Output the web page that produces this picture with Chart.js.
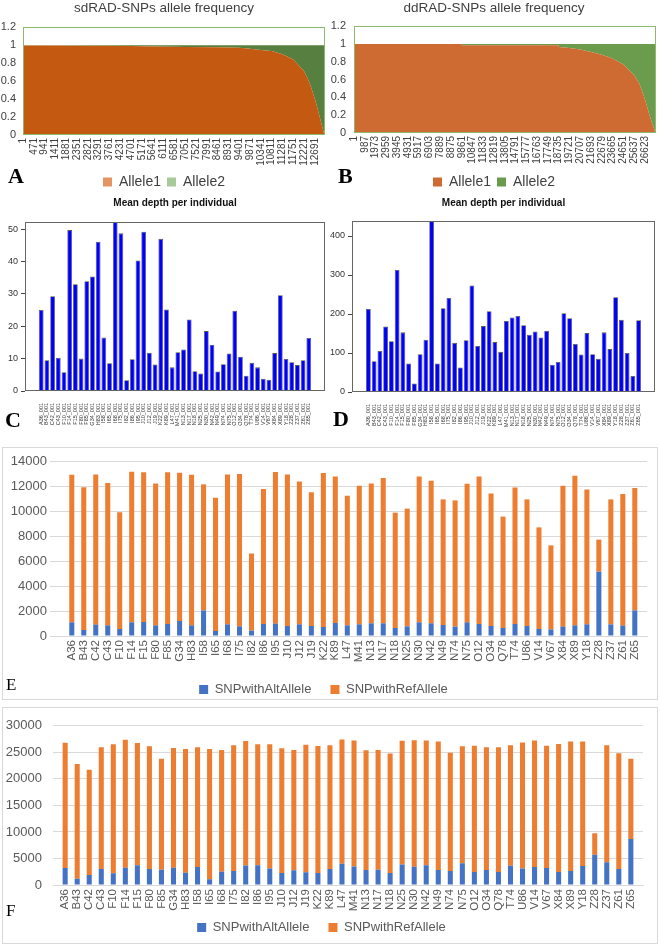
<!DOCTYPE html>
<html>
<head>
<meta charset="utf-8">
<script src="https://cdn.jsdelivr.net/npm/chart.js"></script>
<style>
body{margin:0;background:#fff;width:660px;height:945px;overflow:hidden;position:relative}
canvas,.lbl,.box{position:absolute}
.lbl{font-family:"Liberation Serif","Times New Roman",serif;color:#000;line-height:1}
.big{font-weight:bold;font-size:22px}
.mid{font-size:17px}
.box{border:1px solid #d9d9d9}
</style>
</head>
<body>
<div class="box" style="left:2px;top:447px;width:654px;height:251px"></div>
<div class="box" style="left:2px;top:707px;width:654px;height:235px"></div>

<canvas id="cA" width="330" height="199" style="left:0;top:0"></canvas>
<canvas id="cB" width="330" height="199" style="left:330px;top:0"></canvas>
<canvas id="cC" width="330" height="240" style="left:0;top:190px"></canvas>
<canvas id="cD" width="330" height="240" style="left:330px;top:190px"></canvas>
<canvas id="cE" width="660" height="259" style="left:0;top:447px"></canvas>
<canvas id="cF" width="660" height="237" style="left:0;top:707px"></canvas>

<div class="lbl big" style="left:8px;top:165px">A</div>
<div class="lbl big" style="left:338px;top:165px">B</div>
<div class="lbl big" style="left:5px;top:409px">C</div>
<div class="lbl big" style="left:333px;top:408px">D</div>
<div class="lbl mid" style="left:6px;top:676px">E</div>
<div class="lbl mid" style="left:6px;top:902px">F</div>

<script>
// individuals
const names = ["A36","B43","C42","C43","F10","F14","F15","F80","F85","G34","H83","I58","I65","I68","I75","I82",
  "I86","I95","J10","J12","J19","K22","K89","L47","M41","N13","N17","N18","N25","N30","N42","N49",
  "N74","N75","O12","O34","Q78","T74","U86","V14","V67","X84","X89","Y18","Z28","Z37","Z61","Z65"];
const depthNames = names.map(n => n + "_001");

// A: sdRAD allele frequency (sorted SNPs)
const sdTicks = [1,471,941,1411,1881,2351,2821,3291,3761,4231,4701,5171,5641,6111,6581,7051,7521,7991,
  8461,8931,9401,9871,10341,10811,11281,11751,12221,12691];
const sdX  = [1, 941, 2821, 4701, 5641, 7051, 8461, 9401, 9871, 10341, 10811, 11281, 11751, 12221, 12461, 12691, 12850, 13000, 13100];
const sdA1 = [0.995, 0.995, 0.993, 0.99, 0.985, 0.98, 0.978, 0.972, 0.96, 0.945, 0.935, 0.9, 0.84, 0.71, 0.58, 0.4, 0.25, 0.1, 0];
const sdA2 = [0.005, 0.005, 0.007, 0.01, 0.015, 0.02, 0.022, 0.028, 0.04, 0.055, 0.065, 0.1, 0.16, 0.29, 0.42, 0.6, 0.75, 0.9, 1];

// B: ddRAD allele frequency
const ddTicks = [1,987,1973,2959,3945,4931,5917,6903,7889,8875,9861,10847,11833,12819,13805,14791,15777,
  16763,17749,18735,19721,20707,21693,22679,23665,24651,25637,26623];
const ddX  = [1, 9861, 9862, 18735, 18736, 19721, 20707, 21693, 22679, 23665, 24651, 25637, 26130, 26623, 27000, 27300, 27600];
const ddA1 = [1, 1, 0.985, 0.985, 0.967, 0.955, 0.937, 0.91, 0.88, 0.836, 0.77, 0.65, 0.55, 0.38, 0.22, 0.1, 0];
const ddA2 = [0, 0, 0.015, 0.015, 0.033, 0.045, 0.063, 0.09, 0.12, 0.164, 0.23, 0.35, 0.45, 0.62, 0.78, 0.9, 1];

// C, D: mean depth per individual
const depthSd = [25, 9.5, 29.3, 10.3, 5.8, 49.7, 33, 10, 33.9, 35.4, 46.1, 16.5, 8.6, 52.2, 48.7, 3.3,
  9.8, 40.3, 49.2, 11.8, 8.2, 47, 25.2, 7.3, 12, 12.8, 22.1, 6.1, 5.4, 18.5, 14.3, 6,
  8.3, 11.6, 24.8, 10.6, 4.7, 8.7, 7.3, 3.8, 3.5, 11.7, 29.6, 9.9, 8.9, 8, 9.5, 16.4];
const depthDd = [213, 79, 105, 168, 130, 313, 153, 73, 22, 97, 134, 438.5, 73, 215, 241, 126,
  63, 133, 273, 118, 169, 207, 128, 103, 182, 191, 195, 171, 147, 155, 140, 157,
  70, 77, 202, 189, 123, 96, 151, 97, 85, 153, 110, 243, 185, 100, 41, 184];

// E: sdRAD SNP counts
const sdAlt = [1090,480,910,850,560,1090,1120,850,960,1200,850,2050,400,930,770,430,
  960,990,800,930,800,720,1040,850,930,1010,1010,640,770,1090,1010,880,
  750,1090,960,800,640,960,800,560,530,750,850,930,5150,930,830,2050];
const sdRef = [11810,11420,12020,11390,9340,12060,11980,11350,12140,11870,12050,10080,10670,12000,12190,6170,
  10800,12130,12130,11440,10700,12320,11730,10380,11100,11190,11630,9230,9420,11680,11420,10050,
  10100,11100,11810,10610,8910,10930,10130,8130,6720,11280,11980,10800,2560,10000,10530,9790];

// F: ddRAD SNP counts
const ddAlt = [3190,1170,1900,3000,2200,3250,3740,3000,2880,3250,2330,3370,1100,2520,2640,3680,
  3740,3130,2270,2760,2390,2270,3000,3990,3500,2820,2880,2270,3870,3440,3740,2820,
  2640,4110,2450,2820,2450,3620,3130,3370,3190,2450,2640,3560,5700,4290,3000,8650];
const ddRef = [23610,21630,19800,22950,24300,24110,23010,23130,20920,22580,23310,22580,24540,22940,23680,23440,
  22760,23370,23500,22700,24050,23930,23320,23430,23740,22580,22580,22530,23310,23860,23500,24240,
  22260,22020,23810,23130,23500,22700,23740,23870,23070,24110,24420,23500,4050,22030,21850,15150];

Chart.defaults.font.family = '"Liberation Sans", Arial, sans-serif';

// box round the plot area
Chart.register({
  id: 'frame',
  afterDatasetsDraw(chart, args, opts) {
    if (!opts.color) return;
    const a = chart.chartArea, c = chart.ctx;
    c.save();
    c.strokeStyle = opts.color;
    c.lineWidth = 1;
    c.strokeRect(Math.round(a.left) + 0.5, Math.round(a.top) + 0.5,
      Math.round(a.right - a.left) - 1, Math.round(a.bottom - a.top) - 1);
    c.restore();
  }
});

// fixed axis size, and let tick labels run past the axis box
function fixSize(dim, n) {
  return s => { s[dim] = n; s._computeLabelArea = () => null; };
}

function alleleChart(id, title, xs, a1, a2, ticks, xMax, cols, legCols, cfg) {
  new Chart(document.getElementById(id), {
    type: 'line',
    data: {
      datasets: [
        { label: 'Allele1', data: xs.map((x, i) => ({x: x, y: a1[i]})), backgroundColor: cols[0],
          borderWidth: 0, pointRadius: 0, fill: 'origin' },
        { label: 'Allele2', data: xs.map((x, i) => ({x: x, y: a2[i]})), backgroundColor: cols[1],
          borderWidth: 0, pointRadius: 0, fill: '-1' }
      ]
    },
    options: {
      responsive: false, animation: false,
      layout: {padding: {right: 2}},
      scales: {
        x: {
          type: 'linear', min: 1, max: xMax,
          grid: {display: false, drawTicks: false}, border: {display: false},
          afterBuildTicks: s => { s.ticks = ticks.map(v => ({value: v})); },
          afterFit: fixSize('height', cfg.xh),
          ticks: {autoSkip: false, minRotation: 90, maxRotation: 90, padding: 3, color: '#404040',
                  font: {size: 10}, callback: v => String(v)}
        },
        y: {
          stacked: true, min: 0, max: 1.2,
          grid: {display: false, drawTicks: false}, border: {display: false},
          afterFit: fixSize('width', cfg.yw),
          ticks: {stepSize: 0.2, color: '#404040', font: {size: 11}, padding: cfg.yp,
                  callback: v => String(parseFloat(v.toFixed(1)))}
        }
      },
      plugins: {
        title: {display: true, text: title, color: '#404040', font: {size: 13.5, weight: 'normal'},
                padding: {top: 0, bottom: cfg.tb}},
        legend: {position: 'bottom', labels: {boxWidth: 9, boxHeight: 9, padding: 6, color: '#404040',
          font: {size: 14},
          generateLabels: ch => ch.data.datasets.map((d, i) => ({text: d.label, fillStyle: legCols[i],
            strokeStyle: legCols[i], lineWidth: 0, hidden: false, datasetIndex: i, fontColor: '#404040'}))}},
        frame: {color: '#8cba6c'},
        tooltip: {enabled: false}
      }
    }
  });
}

function depthChart(id, vals, yMax, step, cfg) {
  new Chart(document.getElementById(id), {
    type: 'bar',
    data: {
      datasets: [{ data: vals.map((v, i) => ({x: i + 1, y: v})), backgroundColor: '#0000ff',
        borderColor: '#5a5a5a', borderWidth: 0.8, barPercentage: 0.833, categoryPercentage: 1 }]
    },
    options: {
      responsive: false, animation: false,
      layout: {padding: {right: 5, bottom: cfg.pb}},
      scales: {
        x: {
          type: 'linear', min: -1.3, max: 50.3,
          grid: {display: false}, border: {display: false},
          afterBuildTicks: s => { s.ticks = depthNames.map((n, i) => ({value: i + 1})); },
          afterFit: s => { s.height = 36; },
          ticks: {autoSkip: false, minRotation: 90, maxRotation: 90, padding: 4, color: '#333',
                  font: {size: 5.5}, callback: v => depthNames[v - 1]}
        },
        y: {
          min: 0, max: yMax,
          grid: {drawOnChartArea: false, tickLength: 4, tickColor: '#444'},
          border: {display: false},
          afterFit: s => { s.width = cfg.yw; },
          ticks: {stepSize: step, includeBounds: false, color: '#333', font: {size: 9}, padding: cfg.tp}
        }
      },
      plugins: {
        legend: {display: false},
        title: {display: true, fullSize: false, text: 'Mean depth per individual', color: '#111',
                font: {size: 10, weight: 'bold'}, padding: {top: 7, bottom: cfg.tb}},
        frame: {color: '#666'},
        tooltip: {enabled: false}
      }
    }
  });
}

function snpChart(id, alt, ref, yMax, step, cfg) {
  new Chart(document.getElementById(id), {
    type: 'bar',
    data: {
      datasets: [
        {label: 'SNPwithAltAllele', data: alt.map((v, i) => ({x: i + 1, y: v})), backgroundColor: '#4472c4'},
        {label: 'SNPwithRefAllele', data: ref.map((v, i) => ({x: i + 1, y: v})), backgroundColor: '#ed7d31'}
      ]
    },
    options: {
      responsive: false, animation: false,
      datasets: {bar: {barPercentage: 0.42, categoryPercentage: 1}},
      layout: {padding: {top: 14, right: cfg.pr}},
      scales: {
        x: {
          type: 'linear', stacked: true, min: cfg.xmin, max: 48.5,
          grid: {display: false, drawTicks: false}, border: {color: '#d9d9d9'},
          afterBuildTicks: s => { s.ticks = names.map((n, i) => ({value: i + 1})); },
          afterFit: fixSize('height', cfg.xh),
          ticks: {autoSkip: false, minRotation: 90, maxRotation: 90, padding: 4, color: '#595959',
                  font: {size: 11.5}, callback: v => names[v - 1]}
        },
        y: {
          stacked: true, min: 0, max: yMax,
          grid: {color: '#d9d9d9', drawTicks: false}, border: {display: false},
          afterFit: s => { s.width = cfg.yw; },
          ticks: {stepSize: step, color: '#595959', font: {size: 13}, padding: cfg.yp, callback: v => String(v)}
        }
      },
      plugins: {
        legend: {position: 'bottom', labels: {boxWidth: 9, boxHeight: 9, padding: 19, color: '#595959', font: {size: 13}}},
        tooltip: {enabled: false}
      }
    }
  });
}

alleleChart('cA', 'sdRAD-SNPs allele frequency', sdX, sdA1, sdA2, sdTicks, 13150,
  ['#c45911', '#578040'], ['#e39460', '#a8c99a'], {xh: 34, yw: 23, yp: 7, tb: 11});
alleleChart('cB', 'ddRAD-SNPs allele frequency', ddX, ddA1, ddA2, ddTicks, 27620,
  ['#cd6b32', '#6b9b4d'], ['#cd6b32', '#6b9b4d'], {xh: 36, yw: 24, yp: 8, tb: 10});

depthChart('cC', depthSd, 52.2, 10, {yw: 25, tp: 3, tb: 13, pb: 3});
depthChart('cD', depthDd, 438.5, 100, {yw: 22, tp: 3, tb: 12, pb: 2});

snpChart('cE', sdAlt, sdRef, 14000, 2000, {xh: 28, yw: 50, yp: 3, pr: 13, xmin: -0.3});
snpChart('cF', ddAlt, ddRef, 30000, 5000, {xh: 17, yw: 53, yp: 11, pr: 17, xmin: 0.5});
</script>
</body>
</html>
